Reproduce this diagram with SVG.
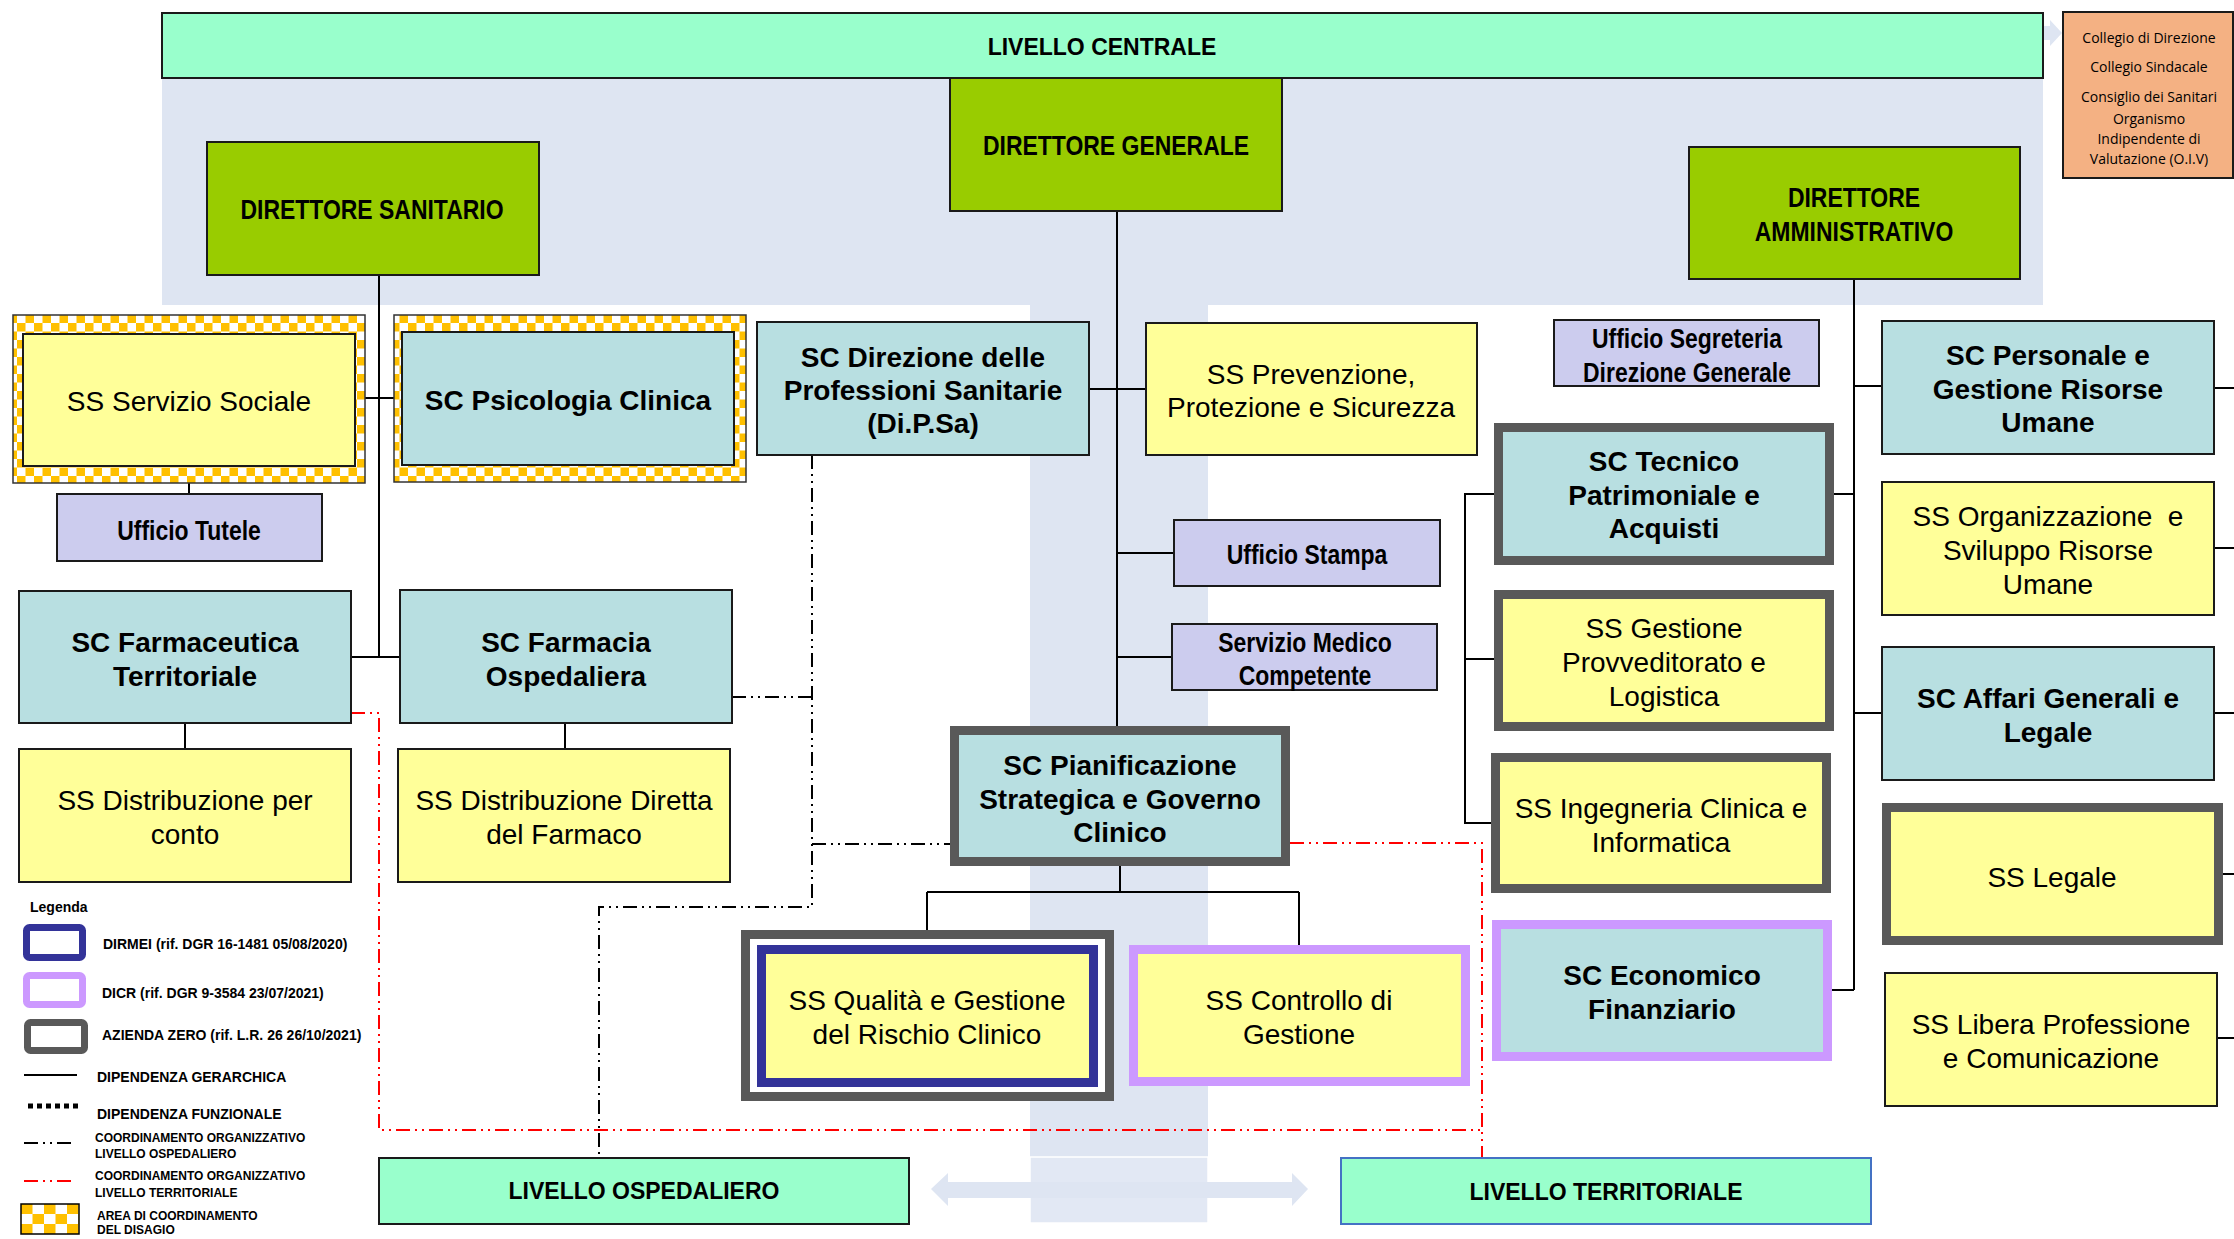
<svg xmlns="http://www.w3.org/2000/svg" width="2234" height="1239" viewBox="0 0 2234 1239">
<defs>
<pattern id="chk" width="17" height="17" patternUnits="userSpaceOnUse"><rect width="17" height="17" fill="#fff"/><rect width="8.5" height="8.5" fill="#FFC000"/><rect x="8.5" y="8.5" width="8.5" height="8.5" fill="#FFC000"/></pattern>
<pattern id="chk2" x="21" y="1204" width="23" height="20" patternUnits="userSpaceOnUse"><rect width="23" height="20" fill="#fff"/><rect width="11.5" height="10" fill="#FFC000"/><rect x="11.5" y="10" width="11.5" height="10" fill="#FFC000"/></pattern>
</defs>
<style>
.t{font-family:"Liberation Sans",Arial,sans-serif;fill:#000;text-anchor:middle}
.b{font-weight:bold;font-size:28px}
.r{font-size:28px}
.lv{font-weight:bold;font-size:23px}
.lg{font-family:"Liberation Sans",Arial,sans-serif;font-weight:bold;font-size:14px;fill:#000}
.lg2{font-family:"Liberation Sans",Arial,sans-serif;font-weight:bold;font-size:12px;fill:#000}
.or{font-family:"Open Sans","Liberation Sans",sans-serif;font-size:14px}
.bx{stroke:#1a1a1a;stroke-width:2}
.teal{fill:#B8DFE1}.yel{fill:#FFFF99}.lav{fill:#CCCCEE}.grn{fill:#99CC00}.liv{fill:#99FFCC}
.gz{fill:none;stroke:#595959;stroke-width:9}
.pu{fill:none;stroke:#CC99FF;stroke-width:9}
.bl{fill:none;stroke:#333399;stroke-width:9}
.ln{stroke:#000;stroke-width:2;fill:none}
.dk{stroke:#000;stroke-width:2;fill:none;stroke-dasharray:14 5 2 5 2 5}
.dr{stroke:#FF0000;stroke-width:2;fill:none;stroke-dasharray:14 5 2 5 2 5}
</style>
<g id="background">
<rect x="162" y="78" width="1881" height="227" fill="#DEE5F2"/>
<rect x="1030" y="305" width="178" height="918" fill="#DEE5F2"/>
<rect x="1030" y="1157" width="178" height="66" fill="#E2E8F4" stroke="#fff" stroke-width="1.5"/>
<polygon points="931,1189 948,1173 948,1182 1292,1182 1292,1173 1308,1189 1292,1206 1292,1198 948,1198 948,1206" fill="#DEE5F2"/>
<polygon points="2043,26 2050,26 2050,20 2062,33 2050,46 2050,40 2043,40" fill="#DEE5F2"/>
</g>
<g id="connectors">
<path class="ln" d="M379,275V657M355,398H402M351,657H400M189,466V494M185,723V749M565,723V749"/>
<path class="ln" d="M1117,211V726M1089,389H1146M1117,553H1174M1117,657H1172"/>
<path class="ln" d="M1120,866V892M927,892H1299M927,892V930M1299,892V945"/>
<path class="ln" d="M1854,279V990M1854,386H1882M1834,494H1854M1854,713H1882M1832,990H1854"/>
<path class="ln" d="M1494,494H1465V823H1491M1465,659H1494"/>
<path class="ln" d="M2214,388H2234M2214,548H2234M2214,713H2234M2223,874H2234M2217,1038H2234"/>
<path class="dk" d="M812,455V907H599V1158M732,697H812M812,844H950"/>
<path class="dr" d="M351,713H379V1130H1482M1290,843H1482V1158"/>
</g>
<g id="livello-centrale"><rect x="162" y="13" width="1881" height="65" class="liv bx"/><text class="t lv" x="1102" y="55">LIVELLO CENTRALE</text></g>
<g id="organi"><rect x="2063" y="12" width="170" height="166" fill="#F4B183" class="bx"/>
<text class="t or" x="2149" y="43">Collegio di Direzione</text>
<text class="t or" x="2149" y="72">Collegio Sindacale</text>
<text class="t or" x="2149" y="102">Consiglio dei Sanitari</text>
<text class="t or" x="2149" y="124">Organismo</text>
<text class="t or" x="2149" y="144">Indipendente di</text>
<text class="t or" x="2149" y="164">Valutazione (O.I.V)</text></g>
<g id="direttore-generale"><rect x="950" y="78" width="332" height="133" class="grn bx"/><text class="t b" transform="translate(1116 155) scale(0.82 1)">DIRETTORE GENERALE</text></g>
<g id="direttore-sanitario"><rect x="207" y="142" width="332" height="133" class="grn bx"/><text class="t b" transform="translate(372 219) scale(0.82 1)">DIRETTORE SANITARIO</text></g>
<g id="direttore-amministrativo"><rect x="1689" y="147" width="331" height="132" class="grn bx"/><text class="t b" transform="translate(1854 207) scale(0.82 1)"><tspan x="0">DIRETTORE</tspan><tspan x="0" dy="34">AMMINISTRATIVO</tspan></text></g>
<g id="ss-servizio-sociale"><rect x="13" y="315" width="352" height="168" fill="url(#chk)" stroke="#333" stroke-width="1.5"/><rect x="23" y="334" width="332" height="132" class="yel bx"/><text class="t r" x="189" y="411">SS Servizio Sociale</text></g>
<g id="sc-psicologia-clinica"><rect x="394" y="315" width="352" height="167" fill="url(#chk)" stroke="#333" stroke-width="1.5"/><rect x="402" y="332" width="332" height="133" class="teal bx"/><text class="t b" x="568" y="410">SC Psicologia Clinica</text></g>
<g id="ufficio-tutele"><rect x="57" y="494" width="265" height="67" class="lav bx"/><text class="t b" transform="translate(189 540) scale(0.82 1)">Ufficio Tutele</text></g>
<g id="sc-farmaceutica-territoriale"><rect x="19" y="591" width="332" height="132" class="teal bx"/><text class="t b" x="185" y="652"><tspan x="185">SC Farmaceutica</tspan><tspan x="185" dy="33.5">Territoriale</tspan></text></g>
<g id="sc-farmacia-ospedaliera"><rect x="400" y="590" width="332" height="133" class="teal bx"/><text class="t b" x="566" y="652"><tspan x="566">SC Farmacia</tspan><tspan x="566" dy="33.5">Ospedaliera</tspan></text></g>
<g id="ss-distribuzione-per-conto"><rect x="19" y="749" width="332" height="133" class="yel bx"/><text class="t r" x="185" y="810"><tspan x="185">SS Distribuzione per</tspan><tspan x="185" dy="34">conto</tspan></text></g>
<g id="ss-distribuzione-diretta"><rect x="398" y="749" width="332" height="133" class="yel bx"/><text class="t r" x="564" y="810"><tspan x="564">SS Distribuzione Diretta</tspan><tspan x="564" dy="34">del Farmaco</tspan></text></g>
<g id="sc-dipsa"><rect x="757" y="322" width="332" height="133" class="teal bx"/><text class="t b" x="923" y="367"><tspan x="923">SC Direzione delle</tspan><tspan x="923" dy="33">Professioni Sanitarie</tspan><tspan x="923" dy="33">(Di.P.Sa)</tspan></text></g>
<g id="ss-prevenzione"><rect x="1146" y="323" width="331" height="132" class="yel bx"/><text class="t r" x="1311" y="384"><tspan x="1311">SS Prevenzione,</tspan><tspan x="1311" dy="33">Protezione e Sicurezza</tspan></text></g>
<g id="ufficio-stampa"><rect x="1174" y="520" width="266" height="66" class="lav bx"/><text class="t b" transform="translate(1307 564) scale(0.82 1)">Ufficio Stampa</text></g>
<g id="servizio-medico"><rect x="1172" y="624" width="265" height="66" class="lav bx"/><text class="t b" transform="translate(1305 652) scale(0.82 1)"><tspan x="0">Servizio Medico</tspan><tspan x="0" dy="33">Competente</tspan></text></g>
<g id="sc-pianificazione"><rect x="950" y="726" width="340" height="140" class="teal"/><rect x="954.5" y="730.5" width="331" height="131" class="gz"/><text class="t b" x="1120" y="775"><tspan x="1120">SC Pianificazione</tspan><tspan x="1120" dy="33.5">Strategica e Governo</tspan><tspan x="1120" dy="33.5">Clinico</tspan></text></g>
<g id="ss-qualita"><rect x="741" y="930" width="373" height="171" fill="#fff"/><rect x="745.5" y="934.5" width="364" height="162" class="gz"/><rect x="757" y="945" width="341" height="142" class="yel"/><rect x="761.5" y="949.5" width="332" height="133" class="bl"/><text class="t r" x="927" y="1010"><tspan x="927">SS Qualità e Gestione</tspan><tspan x="927" dy="34">del Rischio Clinico</tspan></text></g>
<g id="ss-controllo"><rect x="1129" y="945" width="341" height="141" class="yel"/><rect x="1133.5" y="949.5" width="332" height="132" class="pu"/><text class="t r" x="1299" y="1010"><tspan x="1299">SS Controllo di</tspan><tspan x="1299" dy="34">Gestione</tspan></text></g>
<g id="ufficio-segreteria"><rect x="1554" y="320" width="265" height="66" class="lav bx"/><text class="t b" transform="translate(1687 348) scale(0.82 1)"><tspan x="0">Ufficio Segreteria</tspan><tspan x="0" dy="34">Direzione Generale</tspan></text></g>
<g id="sc-tecnico"><rect x="1494" y="423" width="340" height="142" class="teal"/><rect x="1498.5" y="427.5" width="331" height="133" class="gz"/><text class="t b" x="1664" y="471"><tspan x="1664">SC Tecnico</tspan><tspan x="1664" dy="33.5">Patrimoniale e</tspan><tspan x="1664" dy="33.5">Acquisti</tspan></text></g>
<g id="ss-gestione-provveditorato"><rect x="1494" y="590" width="340" height="141" class="yel"/><rect x="1498.5" y="594.5" width="331" height="132" class="gz"/><text class="t r" x="1664" y="638"><tspan x="1664">SS Gestione</tspan><tspan x="1664" dy="34">Provveditorato e</tspan><tspan x="1664" dy="34">Logistica</tspan></text></g>
<g id="ss-ingegneria-clinica"><rect x="1491" y="753" width="340" height="140" class="yel"/><rect x="1495.5" y="757.5" width="331" height="131" class="gz"/><text class="t r" x="1661" y="818"><tspan x="1661">SS Ingegneria Clinica e</tspan><tspan x="1661" dy="34">Informatica</tspan></text></g>
<g id="sc-economico-finanziario"><rect x="1492" y="920" width="340" height="141" class="teal"/><rect x="1496.5" y="924.5" width="331" height="132" class="pu"/><text class="t b" x="1662" y="985"><tspan x="1662">SC Economico</tspan><tspan x="1662" dy="34">Finanziario</tspan></text></g>
<g id="sc-personale"><rect x="1882" y="321" width="332" height="133" class="teal bx"/><text class="t b" x="2048" y="365"><tspan x="2048">SC Personale e</tspan><tspan x="2048" dy="33.5">Gestione Risorse</tspan><tspan x="2048" dy="33.5">Umane</tspan></text></g>
<g id="ss-organizzazione"><rect x="1882" y="482" width="332" height="133" class="yel bx"/><text class="t r" x="2048" y="526" xml:space="preserve"><tspan x="2048">SS Organizzazione  e</tspan><tspan x="2048" dy="34">Sviluppo Risorse</tspan><tspan x="2048" dy="34">Umane</tspan></text></g>
<g id="sc-affari-generali"><rect x="1882" y="647" width="332" height="133" class="teal bx"/><text class="t b" x="2048" y="708"><tspan x="2048">SC Affari Generali e</tspan><tspan x="2048" dy="34">Legale</tspan></text></g>
<g id="ss-legale"><rect x="1882" y="803" width="341" height="142" class="yel"/><rect x="1886.5" y="807.5" width="332" height="133" class="gz"/><text class="t r" x="2052" y="887">SS Legale</text></g>
<g id="ss-libera-professione"><rect x="1885" y="973" width="332" height="133" class="yel bx"/><text class="t r" x="2051" y="1034"><tspan x="2051">SS Libera Professione</tspan><tspan x="2051" dy="34">e Comunicazione</tspan></text></g>
<g id="livello-ospedaliero"><rect x="379" y="1158" width="530" height="66" class="liv bx"/><text class="t lv" x="644" y="1199">LIVELLO OSPEDALIERO</text></g>
<g id="livello-territoriale"><rect x="1341" y="1158" width="530" height="66" class="liv" stroke="#4472C4" stroke-width="2"/><text class="t lv" x="1606" y="1200">LIVELLO TERRITORIALE</text></g>
<g id="legenda">
<text class="lg" x="30" y="912">Legenda</text>
<rect x="26.5" y="927.5" width="56" height="30" rx="3" fill="#fff" stroke="#333399" stroke-width="7"/>
<text class="lg" x="103" y="949">DIRMEI (rif. DGR 16-1481 05/08/2020)</text>
<rect x="26.5" y="975.5" width="56" height="29" rx="3" fill="#fff" stroke="#CC99FF" stroke-width="7"/>
<text class="lg" x="102" y="998">DICR (rif. DGR 9-3584 23/07/2021)</text>
<rect x="27.5" y="1022.5" width="57" height="28" rx="3" fill="#fff" stroke="#595959" stroke-width="7"/>
<text class="lg" x="102" y="1040">AZIENDA ZERO (rif. L.R. 26 26/10/2021)</text>
<line x1="24" y1="1075" x2="77" y2="1075" stroke="#000" stroke-width="2"/>
<text class="lg" x="97" y="1082">DIPENDENZA GERARCHICA</text>
<line x1="28" y1="1106" x2="80" y2="1106" stroke="#000" stroke-width="5" stroke-dasharray="5 4"/>
<text class="lg" x="97" y="1119">DIPENDENZA FUNZIONALE</text>
<line x1="24" y1="1143" x2="73" y2="1143" stroke="#000" stroke-width="2" stroke-dasharray="14 5 2 5 2 5"/>
<text class="lg2" x="95" y="1142">COORDINAMENTO ORGANIZZATIVO</text>
<text class="lg2" x="95" y="1158">LIVELLO OSPEDALIERO</text>
<line x1="24" y1="1181" x2="73" y2="1181" stroke="#FF0000" stroke-width="2" stroke-dasharray="14 5 2 5 2 5"/>
<text class="lg2" x="95" y="1180">COORDINAMENTO ORGANIZZATIVO</text>
<text class="lg2" x="95" y="1197">LIVELLO TERRITORIALE</text>
<rect x="21" y="1204" width="58" height="30" fill="url(#chk2)" stroke="#000" stroke-width="1.5"/>
<text class="lg2" x="97" y="1220">AREA DI COORDINAMENTO</text>
<text class="lg2" x="97" y="1234">DEL DISAGIO</text>
</g>
</svg>
